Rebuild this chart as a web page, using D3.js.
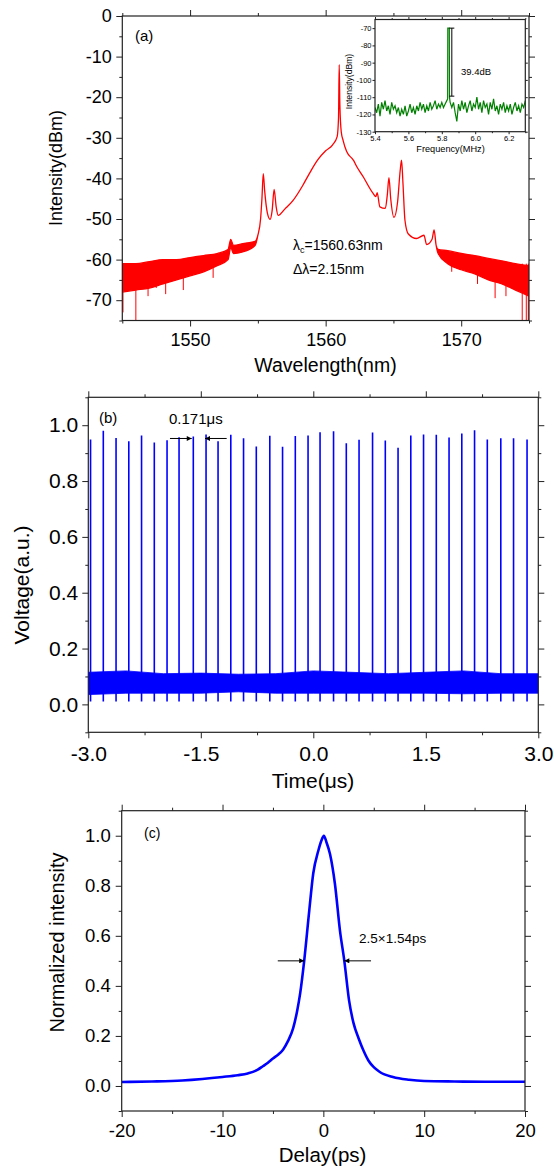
<!DOCTYPE html>
<html><head><meta charset="utf-8">
<script src="https://cdn.jsdelivr.net/npm/d3@7/dist/d3.min.js"></script>
<style>
body{margin:0;background:#fff}
svg{display:block}
text{font-family:"Liberation Sans",Arial,Helvetica,sans-serif;fill:#000}
</style>
</head><body>
<svg id="chart" width="554" height="1169"></svg>
<script>
// ---------------- Panel (a): optical spectrum ----------------
const specWl = [1545,1546,1547,1548,1549,1550,1551,1552,1552.8,1553.0,1553.2,1554,1554.8,
  1555.0,1555.2,1555.3,1555.4,1555.5,1555.7,1555.9,1556.05,1556.2,1556.35,1556.5,1557,1557.6,1558.3,1558.85,1559.4,1560,1560.5,1560.85,
  1560.95,1561.0,1561.05,1561.15,1561.3,1561.55,1562.0,1562.1,1562.2,1562.77,1563.5,1563.7,1563.8,1564.0,1564.4,1564.55,1564.67,1564.8,
  1565.04,1565.3,1565.5,1565.6,1565.7,1565.85,1566.1,1566.7,1567.25,1567.45,1567.85,1568.0,1568.15,1568.3,
  1569,1570,1571,1572,1573,1574,1575];
const specHi = [-61,-61,-60.5,-60,-60,-59.5,-59,-58.5,-57.5,-55,-56.5,-56,-55.5,
  -54,-50,-45,-38.8,-43,-48.5,-50.1,-48,-42.7,-47,-49.1,-47.5,-45.4,-41.8,-38.5,-35.5,-33.2,-31.8,-29.7,
  -25,-12,-22,-28.5,-30.8,-33.4,-35.3,-35.8,-36.5,-39.6,-43.7,-44.5,-43.5,-47.0,-47.4,-44,-39.8,-45,
  -49.6,-46,-38,-35.5,-41,-50.3,-53.7,-54.8,-54,-56.3,-55,-52.7,-56.5,-57.5,
  -57.8,-58.5,-59,-59.7,-60.3,-61,-61.5];
const specLo = [-68,-67.5,-67,-66,-65,-64,-63,-61.5,-60,-57,-58.5,-58,-56.5,
  -54,-50,-45,-38.8,-43,-48.5,-50.1,-48,-42.7,-47,-49.1,-47.5,-45.4,-41.8,-38.5,-35.5,-33.2,-31.8,-29.7,
  -25,-12,-22,-28.5,-30.8,-33.4,-35.3,-35.8,-36.5,-39.6,-43.7,-44.5,-43.5,-47.0,-47.4,-44,-39.8,-45,
  -49.6,-46,-38,-35.5,-41,-50.3,-53.7,-54.8,-54,-56.3,-55,-52.7,-56.5,-58.5,
  -61,-62.5,-63.5,-65,-66,-67.5,-69];
// downward noise spikes in the wings
const spikeWl  = [1545.05,1546.0,1546.9,1547.5,1548.2,1549.5,1551.7,
  1569.3,1571.2,1572.5,1573.3,1574.5,1574.8,1574.95];
const spikeVal = [-73,-75,-69,-67,-68.5,-67.5,-64.5,
  -63,-66,-69.5,-69,-75,-75,-75];
const aXTicks = [1550,1560,1570];
const aXMinor = [1545,1555,1565,1575];
const aYTicks = [0,-10,-20,-30,-40,-50,-60,-70];
const aYMinor = [-5,-15,-25,-35,-45,-55,-65,-75];

// inset: RF spectrum
const insetF = [5.40,5.41,5.42,5.43,5.44,5.45,5.46,5.47,5.48,5.49,5.50,5.51,5.52,5.53,5.54,5.55,5.56,5.57,5.58,5.59,
  5.60,5.61,5.62,5.63,5.64,5.65,5.66,5.67,5.68,5.69,5.70,5.71,5.72,5.73,5.74,5.75,5.76,5.77,5.78,5.79,
  5.80,5.81,5.82,5.83,5.835,5.836,5.845,5.846,5.85,5.86,5.87,5.88,5.89,5.90,5.91,5.92,5.93,5.94,5.95,5.96,5.97,5.98,5.99,
  6.00,6.01,6.02,6.03,6.04,6.05,6.06,6.07,6.08,6.09,6.10,6.11,6.12,6.13,6.14,6.15,6.16,6.17,6.18,6.19,
  6.20,6.21,6.22,6.23,6.24,6.25,6.26,6.27,6.28,6.29,6.30];
const insetP = [-116,-119,-114,-121,-113,-117,-112,-118,-115,-120,-113,-117,-115,-119,-116,-121,-117,-120,-115,-121,
  -118,-114,-119,-116,-120,-115,-118,-113,-117,-114,-119,-115,-118,-113,-117,-115,-112,-117,-114,-116,
  -113,-116,-114,-112,-111,-70,-70,-110,-113,-116,-113,-119,-124,-114,-118,-112,-117,-113,-119,-115,-112,-118,-114,
  -116,-110,-117,-113,-119,-112,-116,-114,-120,-113,-117,-111,-118,-115,-120,-114,-117,-113,-119,-115,
  -118,-114,-120,-116,-113,-118,-115,-119,-114,-116,-112];
const insetXTicks = [5.4,5.6,5.8,6.0,6.2];
const insetXMinor = [5.5,5.7,5.9,6.1,6.3];
const insetYTicks = [-130,-120,-110,-100,-90,-80,-70];
const insetBar = [-70,-109.4];   // 39.4 dB marker
const insetBarF = 5.86;

// ---------------- Panel (b): pulse train ----------------
const pulseT = [-2.97,-2.80,-2.63,-2.46,-2.29,-2.12,-1.95,-1.79,-1.60,-1.43,-1.27,-1.10,-0.93,-0.76,-0.58,-0.41,-0.24,-0.07,
  0.09,0.27,0.44,0.61,0.79,0.96,1.13,1.30,1.47,1.64,1.81,1.98,2.15,2.32,2.50,2.67,2.85];
const pulseV = [0.949,0.980,0.954,0.943,0.963,0.938,0.946,0.957,0.960,0.967,0.943,0.966,0.953,0.924,0.962,0.923,0.961,0.963,
  0.975,0.978,0.935,0.948,0.974,0.945,0.919,0.963,0.967,0.966,0.956,0.970,0.982,0.949,0.953,0.953,0.949];
const pulseFloor = 0.01;
const noiseT  = [-3,-2.5,-2,-1.5,-1,-0.5,0,0.5,1,1.5,2,2.5,3];
const noiseHi = [0.115,0.12,0.11,0.112,0.108,0.11,0.12,0.115,0.11,0.115,0.12,0.11,0.11];
const noiseLo = [0.035,0.04,0.04,0.04,0.045,0.04,0.04,0.04,0.04,0.04,0.038,0.04,0.04];
const bXTicks = [-3,-1.5,0,1.5,3];
const bXMinor = [-2.25,-0.75,0.75,2.25];
const bYTicks = [0,0.2,0.4,0.6,0.8,1.0];
const bYMinor = [-0.1,0.1,0.3,0.5,0.7,0.9,1.1];

// ---------------- Panel (c): autocorrelation ----------------
const acDelay = [-20,-17,-14,-12,-10,-8.5,-7.5,-6.5,-6,-5.5,-5,-4.5,-4,-3.5,-3,-2.6,-2.3,-1.9,-1.4,-1.0,-0.5,-0.2,0.05,0.3,0.66,1.15,1.65,2.08,2.55,3.0,3.5,4.0,4.5,5.0,5.6,6.9,8.5,10,13,16,20];
const acValue = [0.016,0.018,0.022,0.028,0.036,0.043,0.05,0.065,0.079,0.093,0.11,0.125,0.145,0.18,0.23,0.30,0.37,0.50,0.70,0.85,0.94,0.98,1.0,0.975,0.927,0.807,0.62,0.50,0.342,0.25,0.19,0.14,0.10,0.075,0.056,0.036,0.025,0.02,0.018,0.017,0.017];
const cXTicks = [-20,-10,0,10,20];
const cXMinor = [-15,-5,5,15];
const cYTicks = [0,0.2,0.4,0.6,0.8,1.0];
const cYMinor = [-0.1,0.1,0.3,0.5,0.7,0.9,1.1];

// ---------------- drawing ----------------
const svg = d3.select('#chart');
const hy = s => s.replace('\u2212','-');
const defs = svg.append('defs');
defs.append('marker').attr('id','arr').attr('viewBox','0 0 10 10').attr('refX',10).attr('refY',5)
  .attr('markerWidth',8).attr('markerHeight',5).attr('markerUnits','userSpaceOnUse').attr('orient','auto')
  .append('path').attr('d','M0,0L10,5L0,10Z').attr('fill','#000');

function frame(g, x, y, o) {
  const [xa, xb] = x.range(), [ya, yb] = y.range();
  const style = sel => { sel.select('.domain').remove(); sel.selectAll('line').attr('stroke','#222').attr('stroke-width',1);
    sel.attr('font-family',null).attr('font-size',null); sel.selectAll('text').style('font-size',o.fs+'px'); };
  const add = (axis, tr, vals, len, fmt, pad) => g.append('g').attr('transform',tr)
      .call(axis.tickValues(vals).tickSize(len).tickPadding(pad||0).tickFormat(fmt)).call(style);
  add(d3.axisBottom(x), `translate(0,${ya})`, o.xt, o.tl, o.fx, o.xpad);
  add(d3.axisBottom(x), `translate(0,${ya})`, o.xm, o.ml, () => '');
  add(d3.axisTop(x), `translate(0,${yb})`, o.xt, o.tl, () => '');
  add(d3.axisTop(x), `translate(0,${yb})`, o.xm, o.ml, () => '');
  add(d3.axisLeft(y), `translate(${xa},0)`, o.yt, o.tl, o.fy, o.ypad);
  if (o.ym) add(d3.axisLeft(y), `translate(${xa},0)`, o.ym, o.ml, () => '');
  add(d3.axisRight(y), `translate(${xb},0)`, o.yt, o.tl, () => '');
  if (o.ym) add(d3.axisRight(y), `translate(${xb},0)`, o.ym, o.ml, () => '');
  g.append('rect').attr('x',xa).attr('y',yb).attr('width',xb-xa).attr('height',ya-yb)
    .attr('fill','none').attr('stroke','#222').attr('stroke-width',1.2);
}

// ----- (a)
{
  const x = d3.scaleLinear().domain([1545,1575]).range([122.3,529]);
  const y = d3.scaleLinear().domain([-75,0]).range([320.5,16]);
  const g = svg.append('g');
  defs.append('clipPath').attr('id','clipA').append('rect').attr('x',122.3).attr('y',16).attr('width',529-122.3).attr('height',320.5-16);
  const data = specWl.map((w,i)=>({w, hi:specHi[i], lo:specLo[i]}));
  const pg = g.append('g').attr('clip-path','url(#clipA)');
  pg.append('path').datum(data)
    .attr('d', d3.area().x(d=>x(d.w)).y0(d=>y(d.lo)).y1(d=>y(d.hi)).curve(d3.curveMonotoneX))
    .attr('fill','#ff0000').attr('stroke','#ff0000').attr('stroke-width',1.3).attr('stroke-linejoin','round');
  pg.selectAll('line.spk').data(spikeWl).join('line')
    .attr('x1',d=>x(d)).attr('x2',d=>x(d))
    .attr('y1',(d,i)=>y(d < 1560 ? -62 : -61)).attr('y2',(d,i)=>y(spikeVal[i]))
    .attr('stroke','#ff0000').attr('stroke-width',1);
  frame(g, x, y, {xt:aXTicks, xm:aXMinor, yt:aYTicks, ym:aYMinor, tl:6, ml:3, fs:18, xpad:7, ypad:4.5,
    fx:d=>String(d), fy:d=>hy(String(d))});
  g.append('text').attr('x',135).attr('y',41).style('font-size','15px').text('(a)');
  g.append('text').attr('transform','translate(62,168) rotate(-90)').attr('text-anchor','middle').style('font-size','18px').text('Intensity(dBm)');
  g.append('text').attr('x',325.5).attr('y',372).attr('text-anchor','middle').style('font-size','19.5px').text('Wavelength(nm)');
  const t1 = g.append('text').attr('x',293).attr('y',250).style('font-size','14px');
  t1.append('tspan').text('\u03bb');
  t1.append('tspan').attr('dy',3).style('font-size','9px').text('c');
  t1.append('tspan').attr('dy',-3).text('=1560.63nm');
  g.append('text').attr('x',293).attr('y',274).style('font-size','14px').text('\u0394\u03bb=2.15nm');

  // inset
  const xi = d3.scaleLinear().domain([5.4,6.3]).range([375,525.3]);
  const yi = d3.scaleLinear().domain([-130,-65]).range([131.7,19.5]);
  const gi = svg.append('g');
  gi.append('rect').attr('x',375).attr('y',19.5).attr('width',150.3).attr('height',112.2).attr('fill','#fff');
  defs.append('clipPath').attr('id','clipI').append('rect').attr('x',375).attr('y',19.5).attr('width',150.3).attr('height',112.2);
  gi.append('g').attr('clip-path','url(#clipI)').append('path').datum(insetF.map((f,i)=>({f,p:insetP[i]})))
    .attr('d', d3.line().x(d=>xi(d.f)).y(d=>yi(d.p)))
    .attr('fill','none').attr('stroke','#008000').attr('stroke-width',1.2);
  frame(gi, xi, yi, {xt:insetXTicks, xm:insetXMinor, yt:insetYTicks, ym:null, tl:2.5, ml:1.5, fs:7.5, xpad:1.5, ypad:1,
    fx:d=>d3.format('.1f')(d), fy:d=>hy(String(d))});
  const bx = xi(insetBarF);
  gi.append('line').attr('x1',bx).attr('x2',bx).attr('y1',yi(insetBar[0])).attr('y2',yi(insetBar[1])).attr('stroke','#000').attr('stroke-width',1);
  insetBar.forEach(v => gi.append('line').attr('x1',bx-2.5).attr('x2',bx+2.5).attr('y1',yi(v)).attr('y2',yi(v)).attr('stroke','#000').attr('stroke-width',1));
  gi.append('text').attr('x',461).attr('y',75).style('font-size','9.5px').text('39.4dB');
  gi.append('text').attr('x',450.5).attr('y',151.5).attr('text-anchor','middle').style('font-size','9.2px').text('Frequency(MHz)');
  gi.append('text').attr('transform','translate(352,81.5) rotate(-90)').attr('text-anchor','middle').style('font-size','8.6px').text('Intensity(dBm)');
}

// ----- (b)
{
  const x = d3.scaleLinear().domain([-3,3]).range([88.3,538.3]);
  const y = d3.scaleLinear().domain([-0.1,1.1]).range([732.3,397.3]);
  const g = svg.append('g');
  defs.append('clipPath').attr('id','clipB').append('rect').attr('x',88.3).attr('y',397.3).attr('width',450).attr('height',335);
  const pg = g.append('g').attr('clip-path','url(#clipB)');
  pg.append('path').datum(noiseT.map((t,i)=>({t,hi:noiseHi[i],lo:noiseLo[i]})))
    .attr('d', d3.area().x(d=>x(d.t)).y0(d=>y(d.lo)).y1(d=>y(d.hi)))
    .attr('fill','#0000ff').attr('stroke','#0000ff').attr('stroke-width',0.8);
  pg.selectAll('line.p').data(pulseT).join('line')
    .attr('x1',d=>x(d)).attr('x2',d=>x(d)).attr('y1',y(pulseFloor)).attr('y2',(d,i)=>y(pulseV[i]))
    .attr('stroke','#0000ff').attr('stroke-width',1.6);
  frame(g, x, y, {xt:bXTicks, xm:bXMinor, yt:bYTicks, ym:bYMinor, tl:6, ml:3, fs:21, xpad:8, ypad:4,
    fx:d=>hy(d3.format('.1f')(d)), fy:d=>hy(d3.format('.1f')(d))});
  g.append('text').attr('x',99).attr('y',423).style('font-size','15px').text('(b)');
  g.append('text').attr('x',169).attr('y',424).style('font-size','15px').text('0.171\u03bcs');
  const ay = y(0.9525);
  g.append('line').attr('x1',x(-1.911)).attr('x2',x(-1.621)).attr('y1',ay).attr('y2',ay).attr('stroke','#000').attr('stroke-width',1).attr('marker-end','url(#arr)');
  g.append('line').attr('x1',x(-1.155)).attr('x2',x(-1.444)).attr('y1',ay).attr('y2',ay).attr('stroke','#000').attr('stroke-width',1).attr('marker-end','url(#arr)');
  g.append('text').attr('transform','translate(29,585) rotate(-90)').attr('text-anchor','middle').style('font-size','21px').text('Voltage(a.u.)');
  g.append('text').attr('x',313).attr('y',788).attr('text-anchor','middle').style('font-size','21px').text('Time(\u03bcs)');
}

// ----- (c)
{
  const x = d3.scaleLinear().domain([-20,20]).range([121.7,525]);
  const y = d3.scaleLinear().domain([-0.1,1.1]).range([1111,810.7]);
  const g = svg.append('g');
  defs.append('clipPath').attr('id','clipC').append('rect').attr('x',121.7).attr('y',810.7).attr('width',403.3).attr('height',300.3);
  g.append('g').attr('clip-path','url(#clipC)').append('path').datum(acDelay.map((d,i)=>({d,v:acValue[i]})))
    .attr('d', d3.line().x(d=>x(d.d)).y(d=>y(d.v)).curve(d3.curveMonotoneX))
    .attr('fill','none').attr('stroke','#0000ff').attr('stroke-width',2.6);
  frame(g, x, y, {xt:cXTicks, xm:cXMinor, yt:cYTicks, ym:cYMinor, tl:6, ml:3, fs:18.5, xpad:7, ypad:5,
    fx:d=>hy(String(d)), fy:d=>d3.format('.1f')(d)});
  g.append('text').attr('x',144).attr('y',838).style('font-size','14px').text('(c)');
  g.append('text').attr('x',359).attr('y',943).style('font-size','13.5px').text('2.5\u00d71.54ps');
  g.append('line').attr('x1',x(-4.52)).attr('x2',x(-1.9)).attr('y1',y(0.5)).attr('y2',y(0.5)).attr('stroke','#000').attr('stroke-width',1).attr('marker-end','url(#arr)');
  g.append('line').attr('x1',x(4.73)).attr('x2',x(2.08)).attr('y1',y(0.5)).attr('y2',y(0.5)).attr('stroke','#000').attr('stroke-width',1).attr('marker-end','url(#arr)');
  g.append('text').attr('transform','translate(64,942.5) rotate(-90)').attr('text-anchor','middle').style('font-size','20px').text('Normalized intensity');
  g.append('text').attr('x',322.5).attr('y',1162).attr('text-anchor','middle').style('font-size','20.5px').text('Delay(ps)');
}
</script>
</body></html>
